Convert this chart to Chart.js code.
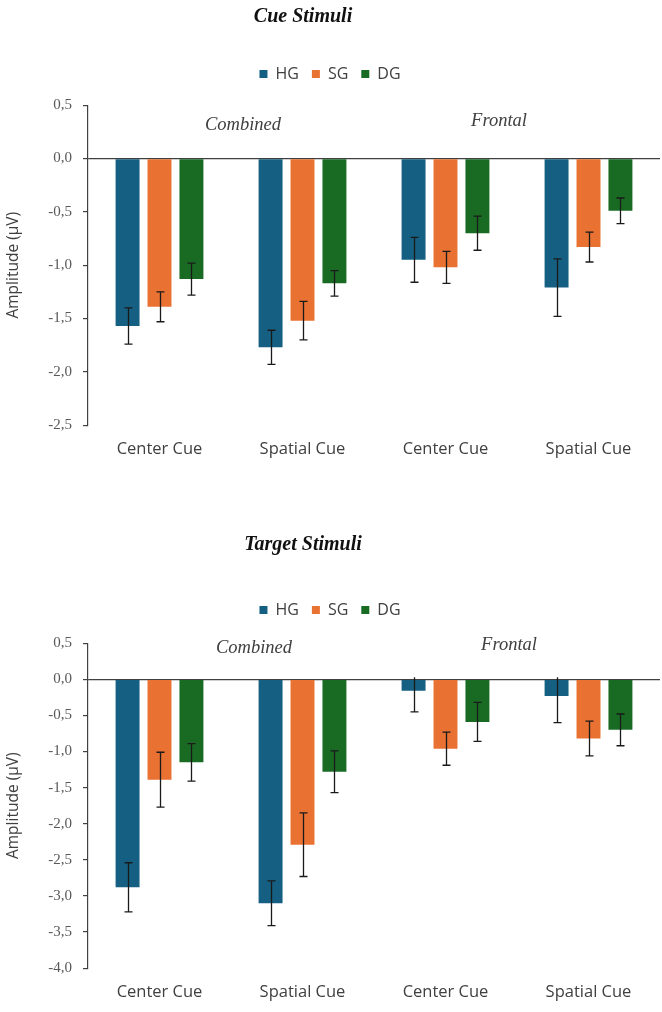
<!DOCTYPE html>
<html>
<head>
<meta charset="utf-8">
<script src="https://cdn.jsdelivr.net/npm/chart.js@4.4.1/dist/chart.umd.min.js"></script>
<style>
  html, body { margin: 0; padding: 0; background: #fff; }
  #page { position: relative; width: 662px; height: 1012px; overflow: hidden; }
  .box { position: absolute; left: 0; width: 662px; }
  #cueBox { top: 0; height: 477px; }
  #targetBox { top: 507px; height: 513px; }
</style>
</head>
<body>
<div id="page">
  <div class="box" id="cueBox"><canvas id="cueChart"></canvas></div>
  <div class="box" id="targetBox"><canvas id="targetChart"></canvas></div>
</div>
<script>
const categories = ["Center Cue", "Spatial Cue", "Center Cue", "Spatial Cue"];
const groups = ["HG", "SG", "DG"];
const groupColors = ["#156082", "#E97132", "#196B24"];

// Cue stimuli (mean amplitude, µV) and error bars
const cueHG = [-1.57, -1.77, -0.95, -1.21];
const cueSG = [-1.39, -1.52, -1.02, -0.83];
const cueDG = [-1.13, -1.17, -0.70, -0.49];
const cueErrHG = [0.17, 0.16, 0.21, 0.27];
const cueErrSG = [0.14, 0.18, 0.15, 0.14];
const cueErrDG = [0.15, 0.12, 0.16, 0.12];

// Target stimuli
const targetHG = [-2.88, -3.10, -0.16, -0.23];
const targetSG = [-1.39, -2.29, -0.96, -0.82];
const targetDG = [-1.15, -1.28, -0.59, -0.70];
const targetErrHG = [0.34, 0.31, 0.29, 0.37];
const targetErrSG = [0.38, 0.44, 0.23, 0.24];
const targetErrDG = [0.26, 0.29, 0.27, 0.22];

const cueTicks = { min: -2.5, max: 0.5, step: 0.5 };
const targetTicks = { min: -4.0, max: 0.5, step: 0.5 };

const SANS = "'Open Sans', 'Liberation Sans', sans-serif";
const SERIF = "'Liberation Serif', 'Times New Roman', serif";
const TEXT = "#404040";

// error bars: drawn from the y scale, upper arm stops at zero without a cap
const errorBars = {
  id: "errorBars",
  afterDatasetsDraw(chart) {
    const ctx = chart.ctx;
    const y = chart.scales.y;
    const zero = y.getPixelForValue(0);
    ctx.save();
    ctx.strokeStyle = "#1a1a1a";
    ctx.lineWidth = 1.3;
    chart.data.datasets.forEach((ds, i) => {
      const meta = chart.getDatasetMeta(i);
      meta.data.forEach((bar, j) => {
        const v = ds.data[j];
        const e = ds.errors[j];
        let top = y.getPixelForValue(v + e);
        const bottom = y.getPixelForValue(v - e);
        let topCap = true;
        if (v + e > 0) { top = zero - 2; topCap = false; }
        const x = Math.round(bar.x) + 0.5;
        ctx.beginPath();
        ctx.moveTo(x, top);
        ctx.lineTo(x, bottom);
        ctx.moveTo(x - 4, bottom);
        ctx.lineTo(x + 4, bottom);
        if (topCap) {
          ctx.moveTo(x - 4, top);
          ctx.lineTo(x + 4, top);
        }
        ctx.stroke();
      });
    });
    ctx.restore();
  }
};

// title and the "Combined" / "Frontal" notes
const notes = {
  id: "notes",
  afterDraw(chart, args, opts) {
    const ctx = chart.ctx;
    ctx.save();
    ctx.textAlign = "center";
    ctx.textBaseline = "middle";
    ctx.fillStyle = "#111";
    ctx.font = "italic bold 20px " + SERIF;
    ctx.fillText(opts.title, opts.titleX, opts.titleY);
    ctx.fillStyle = TEXT;
    ctx.font = "italic 18.5px " + SERIF;
    opts.labels.forEach(l => ctx.fillText(l.text, l.x, l.y));
    ctx.restore();
  }
};

const makeDatasets = (hg, sg, dg, ehg, esg, edg) => {
  const vals = [hg, sg, dg];
  const errs = [ehg, esg, edg];
  return groups.map((g, i) => ({
    label: g,
    data: vals[i],
    errors: errs[i],
    backgroundColor: groupColors[i],
    borderWidth: 0,
    categoryPercentage: 0.67,
    barPercentage: 0.75
  }));
};

const makeChart = (canvasId, datasets, ticks, padTop, gap, noteOpts) => {
  return new Chart(document.getElementById(canvasId), {
    type: "bar",
    data: { labels: categories, datasets: datasets },
    plugins: [errorBars, notes],
    options: {
      responsive: true,
      maintainAspectRatio: false,
      animation: false,
      layout: { padding: { top: padTop, right: 2, left: 0, bottom: 4 } },
      plugins: {
        tooltip: { enabled: false },
        title: { display: false },
        // empty spacer between legend and plot
        subtitle: {
          display: true,
          text: " ",
          weight: 500,
          font: { size: 1 },
          padding: { top: 0, bottom: gap }
        },
        legend: {
          position: "top",
          labels: {
            boxWidth: 8,
            boxHeight: 8,
            padding: 13,
            color: TEXT,
            font: { family: SANS, size: 16 }
          }
        },
        notes: noteOpts
      },
      scales: {
        x: {
          grid: { display: false, drawTicks: false },
          border: { display: false },
          ticks: {
            color: TEXT,
            padding: 14,
            font: { family: SANS, size: 16.5 }
          }
        },
        y: {
          min: ticks.min,
          max: ticks.max,
          afterFit: (scale) => { scale.width = 88; },
          border: { display: true, color: TEXT, width: 1.2 },
          grid: {
            drawOnChartArea: true,
            color: (c) => (c.tick && c.tick.value === 0 ? TEXT : "rgba(0,0,0,0)"),
            lineWidth: 1.2,
            tickColor: TEXT,
            tickLength: 5
          },
          ticks: {
            stepSize: ticks.step,
            color: "#595959",
            padding: 11,
            font: { family: SERIF, size: 15 },
            callback: (v) => v.toFixed(1).replace(".", ",")
          },
          title: {
            display: true,
            text: "Amplitude (µV)",
            color: TEXT,
            font: { family: SANS, size: 15.5 },
            padding: { top: 4, bottom: 0 }
          }
        }
      }
    }
  });
};

makeChart("cueChart",
  makeDatasets(cueHG, cueSG, cueDG, cueErrHG, cueErrSG, cueErrDG),
  cueTicks, 53, 12,
  {
    title: "Cue Stimuli", titleX: 303, titleY: 17,
    labels: [ { text: "Combined", x: 243, y: 125 }, { text: "Frontal", x: 499, y: 121 } ]
  });

makeChart("targetChart",
  makeDatasets(targetHG, targetSG, targetDG, targetErrHG, targetErrSG, targetErrDG),
  targetTicks, 82, 14,
  {
    title: "Target Stimuli", titleX: 303, titleY: 38,
    labels: [ { text: "Combined", x: 254, y: 141 }, { text: "Frontal", x: 509, y: 138 } ]
  });
</script>
</body>
</html>
